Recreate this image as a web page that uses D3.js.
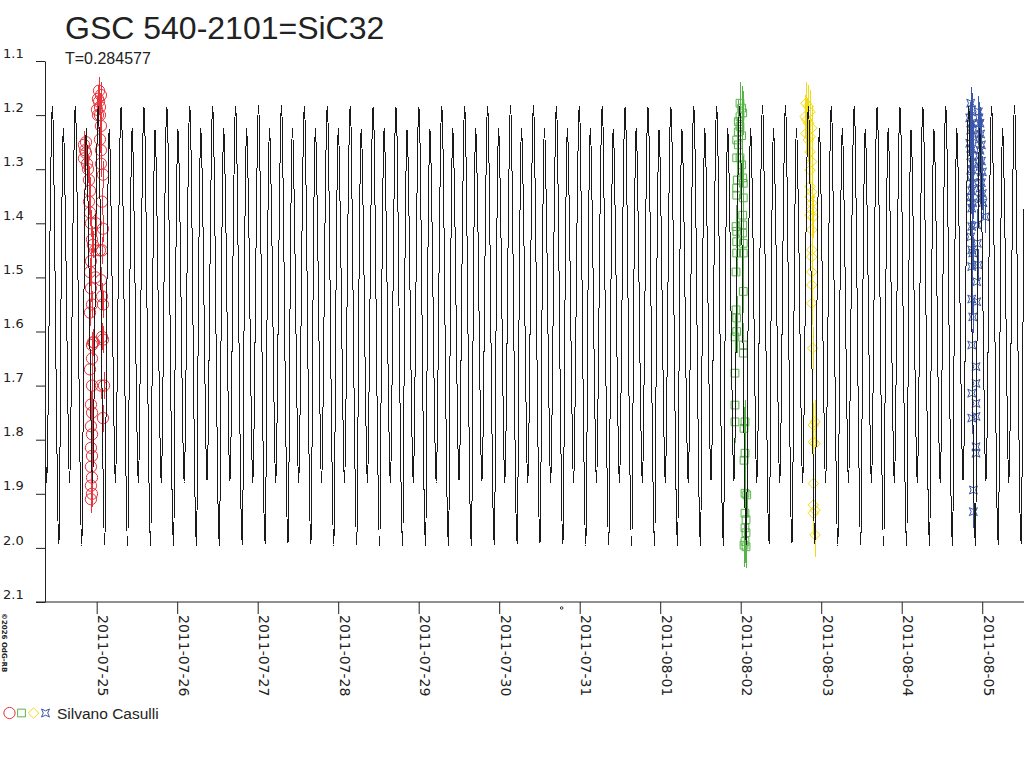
<!DOCTYPE html>
<html>
<head>
<meta charset="utf-8">
<script src="https://cdn.jsdelivr.net/npm/d3@7"></script>
<style>
  body { margin: 0; background: #fff; }
  text { fill: #222; }
</style>
</head>
<body>
<script>
const day0 = Date.UTC(2011, 6, 25);
const period = 0.284577;       // T
const epochMin = 3.801;        // a deep minimum of the light curve

// one cycle of the light curve template (phase from deep minimum)
const lcPhase = [0.00, 0.03, 0.07, 0.12, 0.16, 0.19, 0.23, 0.29, 0.36, 0.42, 0.46,
                 0.50, 0.56, 0.62, 0.67, 0.71, 0.75, 0.81, 0.88, 0.94];
const lcMag   = [1.996, 1.90, 1.62, 1.38, 1.26, 1.224, 1.27, 1.42, 1.66, 1.83, 1.88,
                 1.82, 1.60, 1.36, 1.22, 1.183, 1.23, 1.43, 1.72, 1.92];

const xStart = -0.642;   // 2011-07-24 08:35
const xEnd = 11.519;     // 2011-08-05 12:27
const yTicks = [1.1, 1.2, 1.3, 1.4, 1.5, 1.6, 1.7, 1.8, 1.9, 2.0, 2.1];
const xTickDays = [0, 1, 2, 3, 4, 5, 6, 7, 8, 9, 10, 11];

const redObs = [
  [-0.158, 1.255], [-0.145, 1.265], [-0.158, 1.28], [-0.133, 1.27], [-0.120, 1.29],
  [-0.108, 1.30], [-0.133, 1.25], [-0.096, 1.32], [-0.083, 1.34], [-0.096, 1.36],
  [-0.083, 1.38], [-0.071, 1.40], [-0.058, 1.43], [-0.046, 1.44], [-0.071, 1.47],
  [-0.083, 1.49], [-0.071, 1.52], [-0.058, 1.55], [-0.083, 1.565], [-0.046, 1.62],
  [-0.058, 1.625], [-0.034, 1.62], [-0.058, 1.65], [-0.083, 1.67], [-0.058, 1.70],
  [-0.071, 1.735], [-0.058, 1.75], [-0.071, 1.775], [-0.058, 1.79], [-0.071, 1.815],
  [-0.058, 1.83], [-0.071, 1.85], [-0.058, 1.87], [-0.071, 1.885], [-0.058, 1.90],
  [-0.071, 1.91], [-0.020, 1.45], [-0.015, 1.50], [-0.010, 1.40],
  [0.078, 1.76], [0.053, 1.70], [0.091, 1.70], [0.078, 1.615], [0.066, 1.61],
  [0.078, 1.55], [0.066, 1.535], [0.053, 1.505], [0.066, 1.45], [0.041, 1.45],
  [0.078, 1.41], [0.066, 1.36], [0.078, 1.31], [0.053, 1.29], [0.053, 1.265],
  [0.041, 1.245], [0.053, 1.22], [0.016, 1.20], [0.041, 1.185], [0.053, 1.163],
  [0.029, 1.175], [0.041, 1.20], [0.029, 1.155], [0.016, 1.17], [0.004, 1.19]
];

const greenObs = [
  [7.991, 1.178], [8.012, 1.187], [8.025, 1.196], [7.991, 1.203], [7.970, 1.212],
  [7.991, 1.221], [7.970, 1.231], [8.012, 1.238], [7.950, 1.246], [7.970, 1.255],
  [7.991, 1.279], [7.950, 1.279], [8.012, 1.292], [7.957, 1.32], [8.025, 1.316],
  [8.032, 1.326], [7.950, 1.335], [7.950, 1.348], [8.032, 1.353], [8.025, 1.385],
  [8.025, 1.403], [7.942, 1.406], [7.950, 1.415], [8.025, 1.418], [7.950, 1.434],
  [8.032, 1.437], [8.032, 1.455], [7.950, 1.455], [7.942, 1.49], [8.032, 1.526],
  [7.942, 1.56], [7.950, 1.575], [7.929, 1.61], [7.950, 1.60], [8.032, 1.625],
  [8.032, 1.64], [7.929, 1.677], [7.929, 1.736], [7.929, 1.767], [8.053, 1.767],
  [8.041, 1.779], [8.053, 1.825], [8.041, 1.838], [8.053, 1.899], [8.075, 1.902],
  [8.053, 1.936], [8.066, 1.948], [8.053, 1.963], [8.066, 1.972], [8.053, 1.988],
  [8.041, 1.995], [8.066, 1.998]
];

const yellowObs = [
  [8.811, 1.178], [8.840, 1.184], [8.861, 1.194], [8.799, 1.203], [8.820, 1.209],
  [8.840, 1.215], [8.882, 1.224], [8.811, 1.234], [8.861, 1.24], [8.840, 1.246],
  [8.861, 1.268], [8.882, 1.286], [8.861, 1.302], [8.861, 1.332], [8.882, 1.342],
  [8.861, 1.351], [8.882, 1.363], [8.882, 1.375], [8.861, 1.385], [8.902, 1.388],
  [8.882, 1.412], [8.882, 1.449], [8.882, 1.462], [8.882, 1.49], [8.882, 1.514],
  [8.882, 1.548], [8.894, 1.631], [8.923, 1.767], [8.902, 1.773], [8.902, 1.804],
  [8.923, 1.807], [8.902, 1.881], [8.902, 1.921], [8.923, 1.93], [8.902, 1.936],
  [8.923, 1.976]
];

const blueObs = [
  [10.857, 1.178], [10.870, 1.19], [10.845, 1.205], [10.870, 1.215], [10.857, 1.228],
  [10.882, 1.24], [10.845, 1.252], [10.870, 1.262], [10.857, 1.275], [10.882, 1.29],
  [10.870, 1.30], [10.857, 1.315], [10.882, 1.325], [10.870, 1.34], [10.857, 1.352],
  [10.882, 1.362], [10.870, 1.372], [10.870, 1.406], [10.857, 1.425], [10.870, 1.449],
  [10.882, 1.455], [10.870, 1.48], [10.870, 1.54], [10.882, 1.573], [10.870, 1.625],
  [10.870, 1.714], [10.870, 1.76], [10.890, 1.893], [10.890, 1.933],
  [10.952, 1.194], [10.960, 1.205], [10.973, 1.215], [10.952, 1.225], [10.980, 1.235],
  [10.960, 1.245], [10.990, 1.255], [10.973, 1.265], [10.960, 1.275], [10.990, 1.285],
  [10.973, 1.295], [11.002, 1.305], [10.980, 1.315], [10.990, 1.325], [10.973, 1.335],
  [11.002, 1.345], [10.980, 1.355], [11.010, 1.362], [11.035, 1.388], [10.932, 1.403],
  [10.939, 1.437], [10.952, 1.477], [10.932, 1.508], [10.932, 1.545], [10.923, 1.665],
  [10.923, 1.696], [10.923, 1.733], [10.923, 1.757], [10.923, 1.813], [10.923, 1.825]
];

const observer = "Silvano Casulli";
const markerDay = 5.776;   // small ring under the axis

const toDate = t => new Date(day0 + t * 864e5);

// custom marker shapes
const diamond = { draw(ctx, size) {
  const r = Math.sqrt(size) / 2;
  ctx.moveTo(0, -r); ctx.lineTo(r, 0); ctx.lineTo(0, r); ctx.lineTo(-r, 0); ctx.closePath();
}};
const star4 = { draw(ctx, size) {
  const r = Math.sqrt(size) / 2, q = r * 0.55;
  ctx.moveTo(-r, -r); ctx.lineTo(0, -q); ctx.lineTo(r, -r); ctx.lineTo(q, 0);
  ctx.lineTo(r, r); ctx.lineTo(0, q); ctx.lineTo(-r, r); ctx.lineTo(-q, 0); ctx.closePath();
}};

const series = [
  {obs: redObs, color: "#e8343c", type: d3.symbolCircle, size: 100, err: 0.025},
  {obs: greenObs, color: "#55b347", type: d3.symbolSquare, size: 60, err: 0.04},
  {obs: yellowObs, color: "#f0dc10", type: diamond, size: 110, err: 0.04},
  {obs: blueObs, color: "#3a56a8", type: star4, size: 64, err: 0.03}
];

const margin = {top: 61, right: 0, bottom: 166, left: 45};
const width = 1024 - margin.left - margin.right;
const height = 768 - margin.top - margin.bottom;

const svg = d3.select("body").append("svg")
    .attr("width", 1024)
    .attr("height", 768);

const g = svg.append("g")
    .attr("transform", "translate(" + margin.left + "," + margin.top + ")");

const x = d3.scaleUtc()
    .domain([toDate(xStart), toDate(xEnd)])
    .range([0, width]);

const y = d3.scaleLinear()
    .domain([1.1, 2.1])
    .range([0, height]);

svg.append("defs").append("clipPath").attr("id", "plot")
  .append("rect").attr("width", width).attr("height", height);

const plot = g.append("g").attr("clip-path", "url(#plot)");

// observations: error bars then markers
series.forEach(s => {
    const sg = plot.append("g");
    sg.selectAll("line")
        .data(s.obs)
        .enter().append("line")
        .attr("x1", d => Math.round(x(toDate(d[0]))) + 0.5)
        .attr("x2", d => Math.round(x(toDate(d[0]))) + 0.5)
        .attr("y1", d => y(d[1] - s.err))
        .attr("y2", d => y(d[1] + s.err))
        .attr("stroke", s.color)
        .attr("stroke-width", 1)
        .attr("shape-rendering", "crispEdges");
    sg.selectAll("path")
        .data(s.obs)
        .enter().append("path")
        .attr("transform", d => "translate(" + x(toDate(d[0])) + "," + y(d[1]) + ")")
        .attr("d", d3.symbol().type(s.type).size(s.size))
        .attr("fill", "none")
        .attr("stroke", s.color)
        .attr("stroke-width", 1);
});

// light curve repeated with period T
const nFirst = Math.floor((xStart - epochMin) / period) - 1;
const nLast = Math.ceil((xEnd - epochMin) / period) + 1;
const model = d3.range(nFirst, nLast).flatMap(n =>
    lcPhase.map((p, i) => [epochMin + (n + p) * period, lcMag[i]]));

plot.append("path")
    .datum(model)
    .attr("fill", "none")
    .attr("stroke", "#1a1a1a")
    .attr("stroke-width", 1)
    .attr("shape-rendering", "crispEdges")
    .attr("d", d3.line()
        .x(d => x(toDate(d[0])))
        .y(d => y(d[1]))
        .curve(d3.curveMonotoneX));

// y axis
const yAxis = g.append("g")
    .call(d3.axisLeft(y).tickValues(yTicks).tickFormat(d3.format(".1f")).tickSize(9).tickSizeOuter(0));
yAxis.selectAll("path, line").attr("stroke", "#222");
yAxis.selectAll("text")
    .attr("x", -42)
    .attr("dy", "-0.3em")
    .attr("text-anchor", "start")
    .style("font-family", "DejaVu Sans, sans-serif")
    .style("font-size", "13px")
    .attr("fill", "#222");

// x axis
const xAxis = g.append("g")
    .attr("transform", "translate(0," + height + ")")
    .call(d3.axisBottom(x).tickValues(xTickDays.map(toDate))
        .tickFormat(d3.utcFormat("%Y-%m-%d")).tickSize(12).tickSizeOuter(0));
xAxis.select(".domain").remove();
xAxis.selectAll("line").attr("stroke", "#222");
xAxis.selectAll("text")
    .attr("transform", "rotate(90)")
    .attr("x", 13)
    .attr("y", -1)
    .attr("dy", 0)
    .attr("text-anchor", "start")
    .style("font-family", "DejaVu Sans, sans-serif")
    .style("font-size", "14px")
    .attr("fill", "#222");
xAxis.append("line")
    .attr("x1", -9).attr("x2", width)
    .attr("stroke", "#222");

g.append("circle")
    .attr("cx", x(toDate(markerDay)))
    .attr("cy", height + 6)
    .attr("r", 1.3)
    .attr("fill", "none")
    .attr("stroke", "#333");

// titles
svg.append("text")
    .attr("x", 65)
    .attr("y", 39)
    .style("font-family", "Liberation Sans, Arial, sans-serif")
    .style("font-size", "32px")
    .text("GSC 540-2101=SiC32");

svg.append("text")
    .attr("x", 65)
    .attr("y", 64)
    .style("font-family", "Liberation Sans, Arial, sans-serif")
    .style("font-size", "16px")
    .text("T=" + period);

// copyright
svg.append("text")
    .attr("transform", "translate(2,613) rotate(90)")
    .style("font-family", "DejaVu Sans, sans-serif")
    .style("font-size", "7px")
    .style("font-weight", "bold")
    .attr("fill", "#333")
    .text("©2026 OdG-RB");

// legend
const legend = svg.append("g").attr("transform", "translate(0,713)");
legend.selectAll("path")
    .data(series)
    .enter().append("path")
    .attr("transform", (d, i) => "translate(" + (9.5 + i * 12) + ",0)")
    .attr("d", d => d3.symbol().type(d.type).size(d.size)())
    .attr("fill", "none")
    .attr("stroke", d => d.color);

legend.append("text")
    .attr("x", 57)
    .attr("y", 5.5)
    .style("font-family", "Liberation Sans, Arial, sans-serif")
    .style("font-size", "15.5px")
    .text(observer);
</script>
</body>
</html>
